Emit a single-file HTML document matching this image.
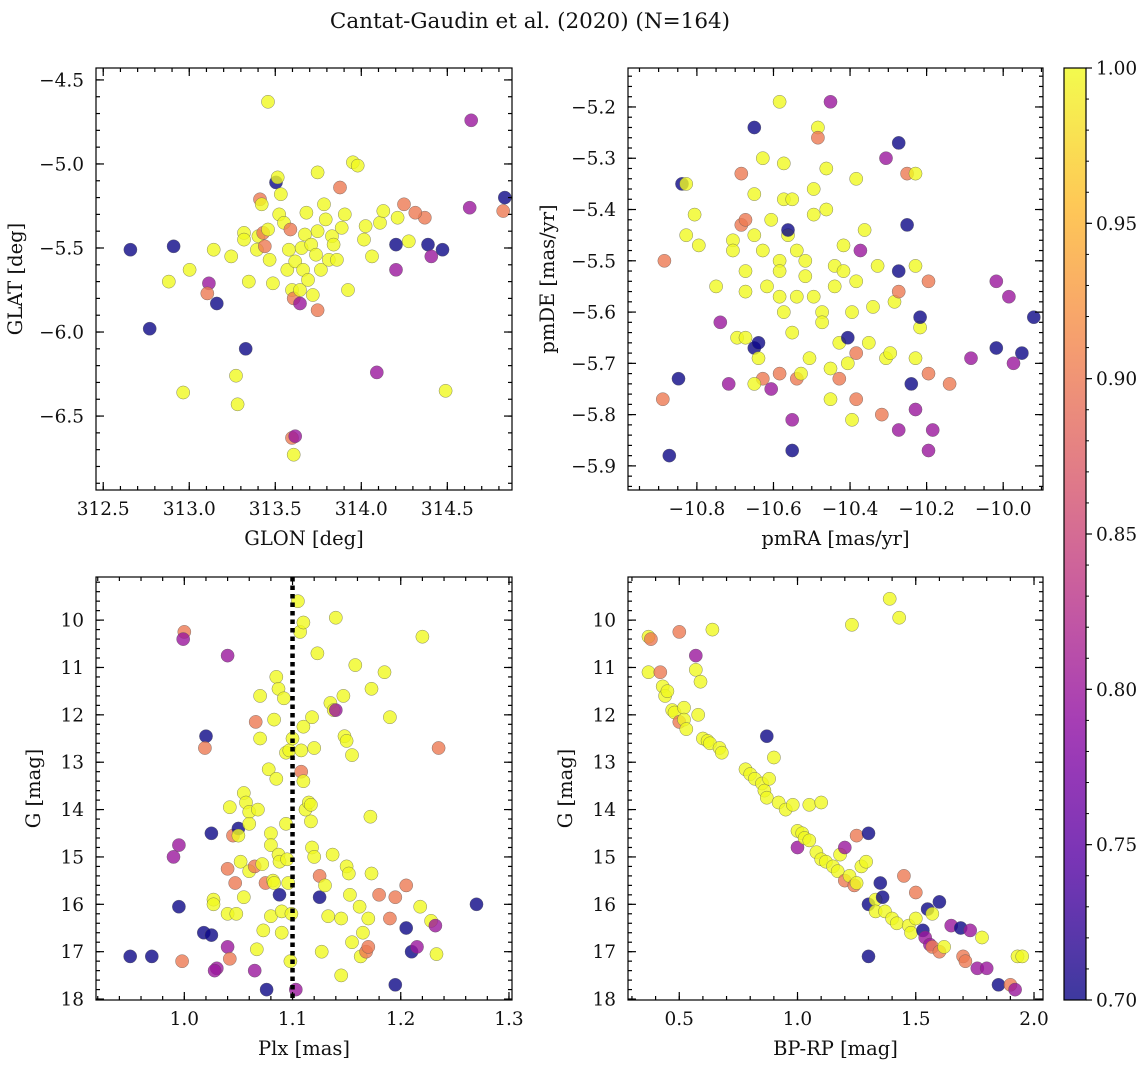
<!DOCTYPE html>
<html><head><meta charset="utf-8"><style>
html,body{margin:0;padding:0;background:#fff;}
svg{display:block;font-family:"DejaVu Serif","Liberation Serif",serif;}
</style></head><body>
<svg id="fig" width="1148" height="1067" viewBox="0 0 1148 1067">
<text x="530" y="28" font-size="21.5" text-anchor="middle" fill="#111">Cantat-Gaudin et al. (2020) (N=164)</text>
</svg>
<script>
const tlData=[[312.658,-5.51,.7],[312.909,-5.49,.7],[312.770,-5.98,.7],[312.881,-5.70,1],[312.965,-6.36,1],[313.002,-5.63,1],[313.114,-5.71,.8],[313.105,-5.77,.9],[313.142,-5.51,1],[313.160,-5.83,.7],[313.244,-5.55,1],[313.272,-6.26,1],[313.281,-6.43,1],[313.318,-5.41,1],[313.318,-5.45,1],[313.328,-6.10,.7],[313.346,-5.70,1],[313.393,-5.51,1],[313.402,-5.43,1],[313.411,-5.21,.9],[313.421,-5.24,1],[313.430,-5.41,.9],[313.458,-4.63,1],[313.458,-5.39,1],[313.439,-5.49,.9],[313.467,-5.57,1],[313.486,-5.71,1],[313.504,-5.11,.7],[313.514,-5.08,1],[313.532,-5.18,1],[313.523,-5.30,1],[313.551,-5.35,1],[313.588,-5.39,.9],[313.579,-5.51,1],[313.570,-5.63,1],[313.597,-5.75,1],[313.607,-5.80,.9],[313.616,-5.58,1],[313.597,-6.63,.9],[313.616,-6.62,.8],[313.607,-6.73,1],[313.644,-5.83,.8],[313.644,-5.75,1],[313.653,-5.50,1],[313.672,-5.42,1],[313.681,-5.29,1],[313.662,-5.63,1],[313.690,-5.69,1],[313.718,-5.78,1],[313.709,-5.48,1],[313.737,-5.54,1],[313.746,-5.05,1],[313.746,-5.40,1],[313.765,-5.63,1],[313.783,-5.24,1],[313.793,-5.33,1],[313.746,-5.87,.9],[313.811,-5.57,1],[313.830,-5.43,1],[313.839,-5.48,1],[313.858,-5.57,1],[313.876,-5.14,.9],[313.886,-5.38,1],[313.904,-5.30,1],[313.923,-5.75,1],[313.951,-4.99,1],[313.979,-5.01,1],[314.016,-5.45,1],[314.025,-5.37,1],[314.062,-5.55,1],[314.090,-6.24,.8],[314.109,-5.35,1],[314.128,-5.28,1],[314.202,-5.63,.8],[314.202,-5.48,.7],[314.211,-5.32,1],[314.248,-5.24,.9],[314.276,-5.46,1],[314.369,-5.32,.9],[314.314,-5.29,.9],[314.388,-5.48,.7],[314.407,-5.55,.8],[314.472,-5.51,.7],[314.630,-5.26,.8],[314.639,-4.74,.8],[314.490,-6.35,1],[314.834,-5.20,.7],[314.825,-5.28,.9]];
const trData=[[-10.885,-5.50,.9],[-10.889,-5.77,.9],[-10.839,-5.35,.7],[-10.828,-5.35,1],[-10.828,-5.45,1],[-10.806,-5.41,1],[-10.795,-5.47,1],[-10.750,-5.55,1],[-10.848,-5.73,.7],[-10.872,-5.88,.7],[-10.739,-5.62,.8],[-10.717,-5.74,.8],[-10.706,-5.46,1],[-10.706,-5.48,1],[-10.695,-5.65,1],[-10.684,-5.33,.9],[-10.684,-5.43,.9],[-10.673,-5.42,.9],[-10.673,-5.52,1],[-10.673,-5.56,1],[-10.650,-5.24,.7],[-10.650,-5.37,1],[-10.650,-5.45,1],[-10.650,-5.67,.7],[-10.639,-5.66,.7],[-10.639,-5.69,1],[-10.673,-5.65,1],[-10.628,-5.30,1],[-10.628,-5.48,1],[-10.617,-5.55,1],[-10.628,-5.73,.9],[-10.650,-5.74,1],[-10.606,-5.42,1],[-10.606,-5.75,.8],[-10.584,-5.19,1],[-10.584,-5.50,1],[-10.584,-5.52,1],[-10.584,-5.57,1],[-10.584,-5.72,.9],[-10.573,-5.38,1],[-10.573,-5.31,1],[-10.573,-5.60,1],[-10.562,-5.45,1],[-10.562,-5.44,.7],[-10.551,-5.38,1],[-10.551,-5.64,1],[-10.551,-5.81,.8],[-10.551,-5.87,.7],[-10.539,-5.48,1],[-10.539,-5.57,1],[-10.539,-5.73,.9],[-10.528,-5.72,1],[-10.517,-5.50,1],[-10.517,-5.53,1],[-10.506,-5.69,1],[-10.495,-5.57,1],[-10.495,-5.41,1],[-10.495,-5.36,1],[-10.484,-5.24,1],[-10.484,-5.26,.9],[-10.473,-5.60,1],[-10.473,-5.62,1],[-10.462,-5.32,1],[-10.462,-5.40,1],[-10.451,-5.19,.8],[-10.451,-5.71,1],[-10.451,-5.77,1],[-10.440,-5.51,1],[-10.440,-5.55,1],[-10.428,-5.66,1],[-10.428,-5.73,.9],[-10.417,-5.47,1],[-10.417,-5.52,1],[-10.406,-5.65,.7],[-10.406,-5.70,1],[-10.395,-5.81,1],[-10.395,-5.60,1],[-10.384,-5.77,.9],[-10.384,-5.68,.9],[-10.384,-5.54,1],[-10.384,-5.34,1],[-10.373,-5.48,.8],[-10.362,-5.44,1],[-10.351,-5.66,1],[-10.340,-5.59,1],[-10.328,-5.51,1],[-10.317,-5.80,.9],[-10.306,-5.30,.8],[-10.306,-5.69,1],[-10.295,-5.68,1],[-10.284,-5.58,1],[-10.273,-5.52,.7],[-10.273,-5.56,.9],[-10.273,-5.83,.8],[-10.273,-5.27,.7],[-10.251,-5.33,.9],[-10.251,-5.43,.7],[-10.240,-5.74,.7],[-10.229,-5.69,1],[-10.229,-5.51,1],[-10.229,-5.33,1],[-10.229,-5.79,.8],[-10.217,-5.63,1],[-10.217,-5.61,.7],[-10.195,-5.54,.9],[-10.195,-5.72,.9],[-10.184,-5.83,.8],[-10.195,-5.87,.8],[-10.140,-5.74,.9],[-10.084,-5.69,.8],[-10.018,-5.54,.8],[-10.018,-5.67,.7],[-9.985,-5.57,.8],[-9.973,-5.70,.8],[-9.951,-5.68,.7],[-9.920,-5.61,.7]];
const blData=[[0.95,17.1,.7],[0.97,17.1,.7],[0.99,15.0,.8],[0.995,14.75,.8],[0.995,16.05,.7],[0.998,17.2,.9],[1.0,10.25,.9],[0.999,10.4,.8],[1.02,12.45,.7],[1.019,12.7,.9],[1.018,16.6,.7],[1.025,16.65,.7],[1.025,14.5,.7],[1.027,15.9,1],[1.027,16.0,1],[1.03,17.35,.8],[1.028,17.4,.8],[1.04,10.75,.8],[1.04,16.9,.8],[1.042,17.15,.9],[1.04,15.25,.9],[1.042,13.95,1],[1.04,16.2,1],[1.048,16.2,1],[1.045,14.55,.9],[1.047,15.55,.9],[1.05,14.4,.7],[1.05,14.55,1],[1.052,15.1,1],[1.055,15.85,1],[1.055,13.65,1],[1.057,13.85,1],[1.06,14.05,1],[1.06,14.3,1],[1.06,15.3,1],[1.065,15.2,.9],[1.065,17.4,.8],[1.066,12.15,.9],[1.067,16.95,1],[1.068,14.0,1],[1.07,11.6,1],[1.07,12.5,1],[1.072,15.15,1],[1.073,16.55,1],[1.075,15.55,.9],[1.076,17.8,.7],[1.078,13.15,1],[1.08,14.5,1],[1.08,14.75,1],[1.08,16.25,1],[1.082,15.5,1],[1.083,15.55,1],[1.083,12.1,1],[1.085,11.2,1],[1.085,13.35,1],[1.087,11.45,1],[1.087,14.95,1],[1.088,15.1,1],[1.088,15.8,.7],[1.09,16.15,1],[1.09,16.6,1],[1.092,11.65,1],[1.094,12.8,1],[1.094,14.3,1],[1.095,15.05,1],[1.096,15.55,1],[1.097,12.75,1],[1.098,17.2,1],[1.099,16.2,1],[1.1,12.5,1],[1.103,17.8,.8],[1.105,9.6,1],[1.107,10.25,1],[1.11,10.05,1],[1.108,12.75,1],[1.108,13.2,.9],[1.11,12.25,1],[1.11,13.4,1],[1.112,14.0,1],[1.115,13.85,1],[1.117,13.9,1],[1.117,14.25,1],[1.118,12.05,1],[1.118,14.8,1],[1.12,15.0,1],[1.12,12.7,1],[1.123,10.7,1],[1.125,15.4,.9],[1.125,15.85,.7],[1.127,17.0,1],[1.13,15.6,1],[1.133,16.25,1],[1.135,11.75,1],[1.137,14.95,1],[1.138,11.9,1],[1.14,9.95,1],[1.14,11.9,.8],[1.145,16.3,1],[1.145,17.5,1],[1.147,11.6,1],[1.148,12.45,1],[1.15,12.55,1],[1.15,15.2,1],[1.152,15.35,1],[1.153,15.8,1],[1.155,16.8,1],[1.155,12.85,1],[1.158,10.95,1],[1.162,16.05,1],[1.163,17.1,1],[1.165,16.6,1],[1.168,17.0,.9],[1.17,16.3,1],[1.17,16.9,.9],[1.172,14.15,1],[1.173,15.35,1],[1.173,11.45,1],[1.18,15.8,.9],[1.185,11.1,1],[1.19,12.05,1],[1.19,16.3,.9],[1.195,17.7,.7],[1.195,15.85,.9],[1.205,15.6,.9],[1.205,16.5,.7],[1.21,17.0,.7],[1.215,16.9,.8],[1.218,16.05,1],[1.22,10.35,1],[1.228,16.35,1],[1.232,16.45,.8],[1.233,17.05,1],[1.235,12.7,.9],[1.27,16.0,.7]];
const brData=[[0.37,10.35,1],[0.38,10.4,.9],[0.37,11.1,1],[0.42,11.1,.9],[0.43,11.4,1],[0.44,11.6,1],[0.45,11.5,1],[0.47,11.9,1],[0.48,11.95,1],[0.5,12.15,.9],[0.52,11.85,1],[0.52,12.1,1],[0.53,12.3,1],[0.5,10.25,.9],[0.57,10.75,.8],[0.57,11.05,1],[0.59,11.3,1],[0.58,12.0,1],[0.6,12.5,1],[0.62,12.55,1],[0.64,10.2,1],[0.63,12.6,1],[0.67,12.7,1],[0.68,12.8,1],[0.78,13.15,1],[0.80,13.25,1],[0.82,13.35,1],[0.85,13.45,1],[0.86,13.6,1],[0.87,13.75,1],[0.87,12.45,.7],[0.88,13.35,1],[0.9,12.9,1],[0.92,13.85,1],[0.95,14.0,1],[0.98,13.9,1],[1.0,14.45,1],[1.0,14.8,.8],[1.02,14.5,1],[1.03,14.6,1],[1.05,14.65,1],[1.05,13.9,1],[1.08,14.9,1],[1.1,15.05,1],[1.1,13.85,1],[1.12,15.1,1],[1.15,15.2,1],[1.17,15.3,1],[1.18,14.95,1],[1.2,14.8,.8],[1.2,15.5,.9],[1.22,15.4,1],[1.24,15.6,.9],[1.25,15.55,1],[1.25,14.55,.9],[1.27,15.2,1],[1.29,15.1,1],[1.3,14.5,.7],[1.3,16.0,.7],[1.3,17.1,.7],[1.33,15.9,1],[1.33,16.15,1],[1.35,15.55,.7],[1.36,15.85,.7],[1.37,16.15,1],[1.4,16.3,1],[1.42,16.4,1],[1.45,15.4,.9],[1.47,16.45,1],[1.48,16.6,1],[1.5,16.3,1],[1.5,15.75,.9],[1.53,16.55,.7],[1.54,16.7,.8],[1.55,16.1,.7],[1.56,16.85,.8],[1.57,16.2,1],[1.57,16.9,.9],[1.6,15.95,.7],[1.6,17.0,.9],[1.62,16.9,1],[1.65,16.45,.8],[1.69,16.5,.7],[1.7,17.1,.9],[1.71,17.2,.9],[1.73,16.55,.8],[1.76,17.35,.8],[1.78,16.7,1],[1.8,17.35,.8],[1.85,17.7,.7],[1.9,17.7,.9],[1.92,17.8,.8],[1.93,17.1,1],[1.95,17.1,1],[1.39,9.55,1],[1.43,9.95,1],[1.23,10.1,1]];
const tlXTicks=[312.5,313.0,313.5,314.0,314.5];
const tlYTicks=[-4.5,-5.0,-5.5,-6.0,-6.5];
const trXTicks=[-10.8,-10.6,-10.4,-10.2,-10.0];
const trYTicks=[-5.2,-5.3,-5.4,-5.5,-5.6,-5.7,-5.8,-5.9];
const blXTicks=[1.0,1.1,1.2,1.3];
const gTicks=[10,11,12,13,14,15,16,17,18];
const brXTicks=[0.5,1.0,1.5,2.0];
const cbTicks=[0.70,0.75,0.80,0.85,0.90,0.95,1.00];
const plxRef=[1.1];
const cRange=[0.7,1.0];

const NS="http://www.w3.org/2000/svg";
const svg=document.getElementById('fig');
function mk(tag,attrs,parent){const e=document.createElementNS(NS,tag);for(const k in attrs)e.setAttribute(k,attrs[k]);(parent||svg).appendChild(e);return e;}
const plasma=[[13,8,135],[84,2,163],[139,10,165],[185,50,137],[219,92,104],[244,136,73],[254,188,43],[240,249,33]];
function cmap(v){let t=(v-cRange[0])/(cRange[1]-cRange[0]);t=Math.max(0,Math.min(1,t));const p=t*(plasma.length-1);const i=Math.min(plasma.length-2,Math.floor(p));const f=p-i;const a=plasma[i],b=plasma[i+1];return 'rgb('+[0,1,2].map(k=>Math.round(a[k]+(b[k]-a[k])*f)).join(',')+')';}
function fmt(v,d){return (v<0?'\u2212':'')+Math.abs(v).toFixed(d);}
const TF=18.5, LF=19.5;
const panels=[
 {name:'glon-glat',data:tlData,x0:96,x1:512,y0:68,y1:490,xd:[312.458,314.876],yd:[-4.429,-6.940],xt:tlXTicks,yt:tlYTicks,xm:0.1,ym:0.1,xdec:1,ydec:1,xl:'GLON [deg]',yl:'GLAT [deg]',ylx:22},
 {name:'pmra-pmde',data:trData,x0:628,x1:1043,y0:68,y1:490,xd:[-10.98,-9.896],yd:[-5.124,-5.947],xt:trXTicks,yt:trYTicks,xm:0.05,ym:0.02,xdec:1,ydec:1,xl:'pmRA [mas/yr]',yl:'pmDE [mas/yr]',ylx:554},
 {name:'plx-g',data:blData,x0:96,x1:512,y0:577,y1:1000,xd:[0.9184,1.3028],yd:[9.09,18.02],xt:blXTicks,yt:gTicks,xm:0.02,ym:0.2,xdec:1,ydec:0,xl:'Plx [mas]',yl:'G [mag]',ylx:40,vline:true},
 {name:'bprp-g',data:brData,x0:628,x1:1043,y0:577,y1:1000,xd:[0.2833,2.038],yd:[9.09,18.02],xt:brXTicks,yt:gTicks,xm:0.1,ym:0.2,xdec:1,ydec:0,xl:'BP-RP [mag]',yl:'G [mag]',ylx:572}
];
panels.forEach(P=>{
 const g=mk('g',{});
 
 
 const sx=v=>P.x0+(v-P.xd[0])/(P.xd[1]-P.xd[0])*(P.x1-P.x0);
 const sy=v=>P.y0+(v-P.yd[0])/(P.yd[1]-P.yd[0])*(P.y1-P.y0);
 const clip='c'+P.name;
 const cp=mk('clipPath',{id:clip},g);mk('rect',{x:P.x0,y:P.y0,width:P.x1-P.x0,height:P.y1-P.y0},cp);
 const pts=mk('g',{'clip-path':'url(#'+clip+')'},g);
 P.data.forEach((d,i)=>{
  const c=mk('circle',{cx:sx(d[0]).toFixed(1),cy:sy(d[1]).toFixed(1),r:6.6,fill:cmap(d[2]),'fill-opacity':0.8,stroke:'#555','stroke-width':0.5,'stroke-opacity':0.7},pts);
  
  
 });
 if(P.vline){plxRef.forEach(v=>{const l=mk('line',{x1:sx(v),x2:sx(v),y1:P.y0,y2:P.y1,stroke:'#000','stroke-width':4.5,'stroke-dasharray':'4.5 4'},pts);
  
  });}
 const ax=mk('g',{stroke:'#000','stroke-width':1.2},g);
 mk('rect',{x:P.x0,y:P.y0,width:P.x1-P.x0,height:P.y1-P.y0,fill:'none'},ax);
 const xlo=Math.min(...P.xd),xhi=Math.max(...P.xd),ylo=Math.min(...P.yd),yhi=Math.max(...P.yd);
 for(let k=Math.ceil(xlo/P.xm-1e-6);k<=Math.floor(xhi/P.xm+1e-6);k++){const v=k*P.xm,x=sx(v);
  mk('line',{x1:x,x2:x,y1:P.y1,y2:P.y1-4},ax);mk('line',{x1:x,x2:x,y1:P.y0,y2:P.y0+4},ax);}
 for(let k=Math.ceil(ylo/P.ym-1e-6);k<=Math.floor(yhi/P.ym+1e-6);k++){const v=k*P.ym,y=sy(v);
  mk('line',{x1:P.x0,x2:P.x0+4,y1:y,y2:y},ax);mk('line',{x1:P.x1,x2:P.x1-4,y1:y,y2:y},ax);}
 P.xt.forEach(v=>{const x=sx(v);mk('line',{x1:x,x2:x,y1:P.y1,y2:P.y1-8},ax);mk('line',{x1:x,x2:x,y1:P.y0,y2:P.y0+8},ax);
  const t=mk('text',{x:x,y:P.y1+25,'font-size':TF,'text-anchor':'middle',fill:'#111'},g);t.textContent=fmt(v,P.xdec);
  });
 P.yt.forEach(v=>{const y=sy(v);mk('line',{x1:P.x0,x2:P.x0+8,y1:y,y2:y},ax);mk('line',{x1:P.x1,x2:P.x1-8,y1:y,y2:y},ax);
  const t=mk('text',{x:P.x0-12,y:y+6.5,'font-size':TF,'text-anchor':'end',fill:'#111'},g);t.textContent=fmt(v,P.ydec);
  });
 const xt=mk('text',{x:(P.x0+P.x1)/2,y:P.y1+55,'font-size':LF,'text-anchor':'middle',fill:'#111'},g);xt.textContent=P.xl;
 
 const yc=(P.y0+P.y1)/2;
 const yt=mk('text',{x:P.ylx,y:yc,'font-size':LF,'text-anchor':'middle',fill:'#111',transform:'rotate(-90 '+P.ylx+' '+yc+')'},g);yt.textContent=P.yl;
 
});
(function(){
 const x0=1064,x1=1086,y0=68,y1=1000;
 const g=mk('g',{});
 
 
 const defs=mk('defs',{},g);const lg=mk('linearGradient',{id:'cbg',x1:0,y1:1,x2:0,y2:0},defs);
 for(let i=0;i<=20;i++){const v=cRange[0]+(cRange[1]-cRange[0])*i/20;mk('stop',{offset:(i/20),'stop-color':cmap(v),'stop-opacity':0.8},lg);}
 mk('rect',{x:x0,y:y0,width:x1-x0,height:y1-y0,fill:'url(#cbg)'},g);
 mk('rect',{x:x0,y:y0,width:x1-x0,height:y1-y0,fill:'none',stroke:'#000','stroke-width':1.2},g);
 const sy=v=>y1-(v-cRange[0])/(cRange[1]-cRange[0])*(y1-y0);
 for(let k=70;k<=100;k++){const y=sy(k/100);mk('line',{x1:x1,x2:x1+3,y1:y,y2:y,stroke:'#000','stroke-width':1},g);}
 cbTicks.forEach(v=>{const y=sy(v);mk('line',{x1:x1,x2:x1+6,y1:y,y2:y,stroke:'#000','stroke-width':1.2},g);
  const t=mk('text',{x:x1+10,y:y+6.5,'font-size':TF,fill:'#111'},g);t.textContent=v.toFixed(2);
  });
})();
</script>
</body></html>
